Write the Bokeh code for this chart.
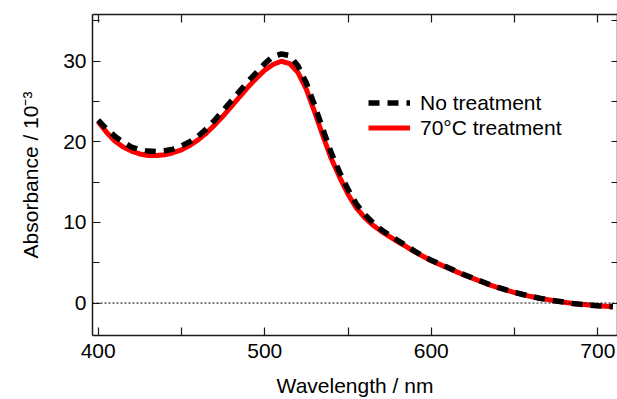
from bokeh.embed import file_html
from bokeh.resources import INLINE
from bokeh.plotting import figure
from bokeh.models import (ColumnDataSource, Range1d, LinearAxis, FixedTicker,
                          Span, Legend, LegendItem)

# Absorption spectra (absorbance in units of 10^-3)
wavelength = [400, 405, 410, 415, 420, 425, 430, 435, 440, 445, 450, 455, 460, 465,
              470, 475, 480, 485, 490, 495, 500, 505, 510, 515, 520, 525, 530, 535,
              540, 545, 550, 555, 560, 565, 570, 575, 580, 585, 590, 595, 600, 605,
              610, 615, 620, 625, 630, 635, 640, 645, 650, 655, 660, 665, 670, 675,
              680, 685, 690, 695, 700, 705, 709]

no_treatment = [22.7, 21.6, 20.7, 19.95, 19.35, 19.0, 18.85, 18.8, 18.9, 19.1, 19.5,
                20.0, 20.7, 21.6, 22.7, 23.9, 25.1, 26.3, 27.5, 28.6, 29.7, 30.6,
                30.9, 30.7, 29.4, 27.3, 24.5, 21.5, 18.6, 16.2, 14.1, 12.3, 11.0,
                9.95, 9.1, 8.4, 7.75, 7.1, 6.45, 5.85, 5.3, 4.85, 4.4, 3.95, 3.5, 3.1,
                2.7, 2.3, 1.95, 1.62, 1.32, 1.06, 0.82, 0.6, 0.42, 0.25, 0.1, -0.05,
                -0.17, -0.26, -0.34, -0.41, -0.46]

treatment_70c = [22.5, 21.2, 20.1, 19.35, 18.85, 18.5, 18.3, 18.3, 18.4, 18.65, 19.0,
                 19.55, 20.25, 21.1, 22.1, 23.2, 24.4, 25.6, 26.8, 27.9, 28.9, 29.6,
                 30.0, 29.7, 28.6, 26.5, 23.7, 20.7, 17.9, 15.6, 13.5, 11.8, 10.6,
                 9.65, 8.9, 8.25, 7.6, 7.0, 6.35, 5.8, 5.25, 4.8, 4.35, 3.9, 3.45, 3.05,
                 2.65, 2.25, 1.9, 1.6, 1.3, 1.05, 0.8, 0.6, 0.42, 0.25, 0.1, -0.05,
                 -0.16, -0.25, -0.33, -0.4, -0.45]

x_major = [400, 500, 600, 700]
x_minor = [450, 550, 650]
y_major = [0, 10, 20, 30]
y_minor = [5, 15, 25, 35]

FONT = "Liberation Sans"
INK = "#1a1a1a"

W, H = 617, 399
X0, X1 = 396.6, 711.8
Y0, Y1 = -4.03, 35.8

p = figure(width=W, height=H, output_backend="svg", toolbar_location=None,
           x_range=Range1d(X0, X1), y_range=Range1d(Y0, Y1),
           x_axis_location=None, y_axis_location=None,
           min_border=0,
           min_border_left=92, min_border_right=0,
           min_border_top=14, min_border_bottom=64)
p.grid.visible = False
p.outline_line_color = None
p.background_fill_color = "white"
p.border_fill_color = "white"


def style_axis(ax, ticks, minor, tick_len, minor_len):
    ax.ticker = FixedTicker(ticks=ticks, minor_ticks=minor)
    ax.axis_line_color = INK
    ax.axis_line_width = 1.5
    ax.major_tick_line_color = INK
    ax.minor_tick_line_color = INK
    ax.major_tick_line_width = 1.2
    ax.minor_tick_line_width = 1.2
    ax.major_tick_in = tick_len
    ax.major_tick_out = 0
    ax.minor_tick_in = minor_len
    ax.minor_tick_out = 0
    ax.major_label_text_font = FONT
    ax.major_label_text_color = "black"
    ax.major_label_text_font_size = "21px"
    ax.axis_label_text_font = FONT
    ax.axis_label_text_font_style = "normal"
    ax.axis_label_text_font_size = "21px"
    ax.axis_label_text_color = "black"


xb = LinearAxis(axis_label="Wavelength / nm")
style_axis(xb, x_major, x_minor, 8, 8)
xb.major_label_standoff = 8
xb.axis_label_standoff = 13
p.add_layout(xb, "below")

yl = LinearAxis(axis_label="Absorbance / 10\u207b\u00b3")
style_axis(yl, y_major, y_minor, 8, 7)
yl.major_label_standoff = 6
yl.axis_label_standoff = 18
p.add_layout(yl, "left")

# mirrored frame edges: tick marks only, no labels
xt = LinearAxis()
style_axis(xt, [], x_major + x_minor, 8, 8)
xt.major_label_standoff = 0
xt.axis_label_standoff = 0
p.add_layout(xt, "above")

yr = LinearAxis()
style_axis(yr, [], y_major + y_minor, 6, 6)
yr.major_label_standoff = 0
yr.axis_label_standoff = 0
p.add_layout(yr, "right")

# dotted baseline at zero absorbance
p.add_layout(Span(location=0, dimension="width", line_color="black",
                  line_width=1, line_dash="2 2"))

src = ColumnDataSource(dict(wl=wavelength, a=no_treatment, b=treatment_70c))
r_red = p.line("wl", "b", source=src, line_color="#ff0000", line_width=5,
               line_join="round")
r_blk = p.line("wl", "a", source=src, line_color="black", line_width=5.5,
               line_dash="11 8")

legend = Legend(items=[LegendItem(label="No treatment", renderers=[r_blk]),
                       LegendItem(label="70°C treatment", renderers=[r_red])],
                location=(276, 195), orientation="vertical",
                label_text_font=FONT, label_text_font_size="21px",
                label_text_color="black", label_standoff=10,
                glyph_width=42, glyph_height=25, label_height=25,
                spacing=0, padding=0, margin=0,
                border_line_color=None, background_fill_alpha=0)
p.add_layout(legend, "center")

open("out.html", "w").write(file_html(p, INLINE))
